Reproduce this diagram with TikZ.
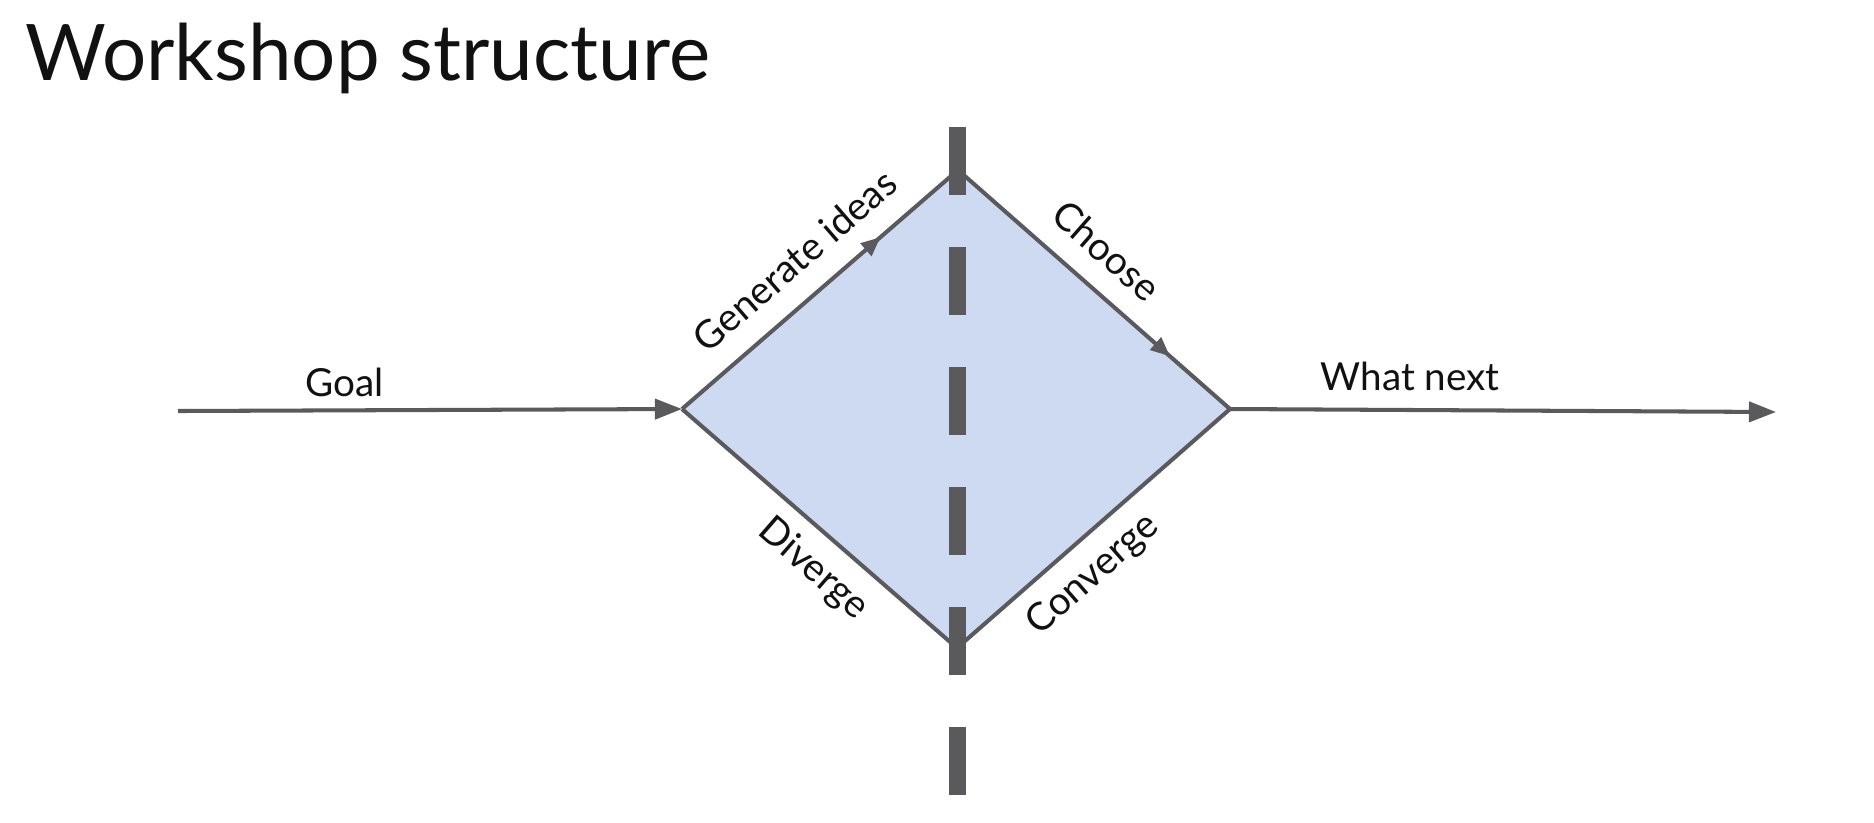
\documentclass[tikz,border=0pt]{standalone}
\usepackage{fontspec}
\setmainfont{Lato}
\usepackage{tikz}
\usetikzlibrary{arrows.meta, calc, positioning, decorations.markings}
\definecolor{wks-ink}{HTML}{111111}
\definecolor{wks-line}{HTML}{5A5A5C}
\definecolor{wks-fill}{HTML}{CED9F2}

\begin{document}
\begin{tikzpicture}[>={Triangle[length=7.7pt, width=5.7pt]}, line join=miter,
    edge/.style={wks-line, line width=1.15pt},
    midarrow/.style={postaction={decorate}, decoration={markings,
      mark=at position #1 with {\arrow{Triangle[length=5.5pt, width=4.6pt]}}}},
    lbl/.style={font=\fontsize{11}{13}\selectfont, text=wks-ink}]
  \useasboundingbox (0,0) rectangle (18.74,-8.22);
  \node[anchor=base west, text=wks-ink, inner sep=0pt,
    font=\fontsize{22.2}{27}\selectfont] (title) at (0.25,-0.80) {Workshop structure};
  \coordinate (goal) at (1.78,-4.11);
  \coordinate (left) at (6.82,-4.09);
  \coordinate (top) at (9.58,-1.70);
  \coordinate (right) at (12.30,-4.09);
  \coordinate (bottom) at (9.57,-6.48);
  \coordinate (next) at (17.76,-4.12);
  \coordinate (cuttop) at (9.575,-1.27);
  \coordinate (cutbot) at (9.575,-7.95);
  \fill[wks-fill] (left) -- (top) -- (right) -- (bottom) -- cycle;
  \draw[wks-line, line width=4.8pt, dash pattern=on 0.68cm off 0.52cm] (cuttop) -- (cutbot);
  \draw[edge, ->] (goal) -- node[lbl, above, pos=0.33] {Goal} (left);
  \draw[edge, midarrow=0.72] (left) -- node[lbl, sloped, above=3pt] {Generate ideas} (top);
  \draw[edge, midarrow=0.78] (top) -- node[lbl, sloped, above=2.7pt, pos=0.456] {Choose} (right);
  \draw[edge] (left) -- node[lbl, sloped, below=1pt, pos=0.56] {Diverge} (bottom);
  \draw[edge] (bottom) -- node[lbl, sloped, below=1pt, pos=0.415] {Converge} (right);
  \draw[edge, ->] (right) -- node[lbl, above=1.5pt, pos=0.33] {What next} (next);
\end{tikzpicture}
\end{document}
